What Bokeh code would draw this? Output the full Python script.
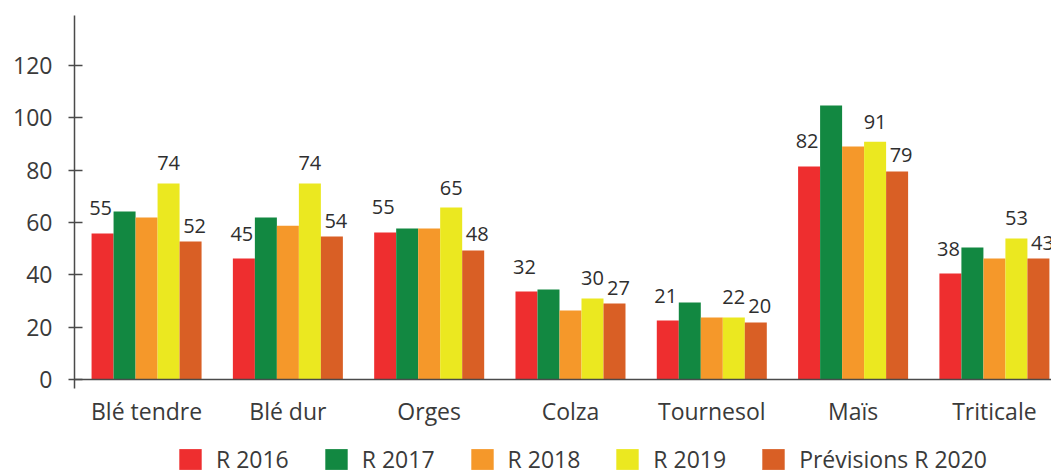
import numpy as np
from bokeh.plotting import figure
from bokeh.layouts import column
from bokeh.models import (Range1d, FixedTicker, Span, Legend, LegendItem,
                          ColumnDataSource, LabelSet)
from bokeh.core.properties import value
from bokeh.embed import file_html
from bokeh.resources import INLINE

categories = ["Blé tendre", "Blé dur", "Orges", "Colza", "Tournesol", "Maïs", "Triticale"]
series_names = ["R 2016", "R 2017", "R 2018", "R 2019", "Prévisions R 2020"]
r2016 = [55.8, 46.2, 56.2, 33.6, 22.5, 81.4, 40.5]
r2017 = [64.2, 61.9, 57.7, 34.4, 29.4, 104.7, 50.4]
r2018 = [61.9, 58.8, 57.7, 26.4, 23.7, 89.0, 46.2]
r2019 = [74.9, 74.9, 65.7, 31.0, 23.7, 90.9, 53.9]
p2020 = [52.7, 54.6, 49.3, 29.0, 21.8, 79.5, 46.2]
labels2016 = ["55", "45", "55", "32", "21", "82", "38"]
labels2019 = ["74", "74", "65", "30", "22", "91", "53"]
labels2020 = ["52", "54", "48", "27", "20", "79", "43"]
y_ticks = [0, 20, 40, 60, 80, 100, 120]

colors = ["#EE2E2F", "#128841", "#F5982A", "#EBE820", "#D95F25"]
FONT = "Open Sans"
TXT = "#3a3a3a"

p = figure(width=1051, height=440, output_backend="svg", toolbar_location=None,
           x_range=Range1d(-0.51, 6.404), y_range=Range1d(-3.44, 139.1),
           min_border_left=74, min_border_right=0, min_border_top=15,
           min_border_bottom=52)
p.outline_line_color = None
p.xgrid.visible = False
p.ygrid.visible = False
p.background_fill_color = "white"
p.border_fill_color = "white"

idx = np.arange(len(categories))
bw = 0.1557
all_series = [r2016, r2017, r2018, r2019, p2020]
for j, vals in enumerate(all_series):
    src = ColumnDataSource(dict(x=idx + (j - 2) * bw, top=vals))
    p.vbar(x="x", top="top", width=bw, bottom=0, source=src,
           fill_color=colors[j], line_color=None)

# data labels
for j, labs, xo, yo in [(0, labels2016, -2, 18), (3, labels2019, 0, 13), (4, labels2020, 4, 9)]:
    src = ColumnDataSource(dict(x=idx + (j - 2) * bw, y=all_series[j], t=labs))
    ls = LabelSet(x="x", y="y", text="t", source=src, x_offset=xo, y_offset=yo,
                  text_align="center", text_baseline="alphabetic",
                  text_font=value(FONT), text_font_size="20px", text_color="#2e2e2e")
    p.add_layout(ls)

# baseline
p.add_layout(Span(location=0, dimension="width", line_color="#4a4a4a", line_width=1.5))

# y axis
ya = p.yaxis[0]
ya.ticker = FixedTicker(ticks=y_ticks)
ya.axis_line_color = "#4a4a4a"
ya.axis_line_width = 1.5
ya.major_tick_line_color = "#4a4a4a"
ya.major_tick_line_width = 1.5
ya.major_tick_in = 8
ya.major_tick_out = 6
ya.minor_tick_line_color = None
ya.major_label_standoff = 16
ya.major_label_text_font = FONT
ya.major_label_text_font_size = "23px"
ya.major_label_text_color = TXT

# x axis
xa = p.xaxis[0]
xa.ticker = FixedTicker(ticks=list(idx))
xa.major_label_overrides = {int(i): c for i, c in zip(idx, categories)}
xa.axis_line_color = None
xa.major_tick_line_color = None
xa.minor_tick_line_color = None
xa.major_label_standoff = 0
xa.major_label_text_font = FONT
xa.major_label_text_font_size = "23px"
xa.major_label_text_color = TXT

# legend in a separate strip below
q = figure(width=1051, height=36, output_backend="svg", toolbar_location=None,
           x_range=Range1d(0, 1), y_range=Range1d(0, 1),
           x_axis_location=None, y_axis_location=None,
           min_border_left=0, min_border_right=0, min_border_top=0, min_border_bottom=0)
q.outline_line_color = None
q.xgrid.visible = False
q.ygrid.visible = False
items = []
for n, c in zip(series_names, colors):
    # invisible placeholder renderer (zero-height, outside the strip's range)
    r = q.vbar(x=[-5], top=[0], width=0.1, fill_color=c, line_color=None)
    items.append(LegendItem(label=n, renderers=[r]))
legend = Legend(items=items, orientation="horizontal", location=(102, 1),
                glyph_width=28, glyph_height=26, label_standoff=12, spacing=33,
                padding=0, margin=0, border_line_color=None,
                background_fill_alpha=0,
                label_text_font=FONT, label_text_font_size="23px",
                label_text_color=TXT)
q.add_layout(legend, "center")

layout = column(p, q, spacing=0)
open("out.html", "w").write(file_html(layout, INLINE))
